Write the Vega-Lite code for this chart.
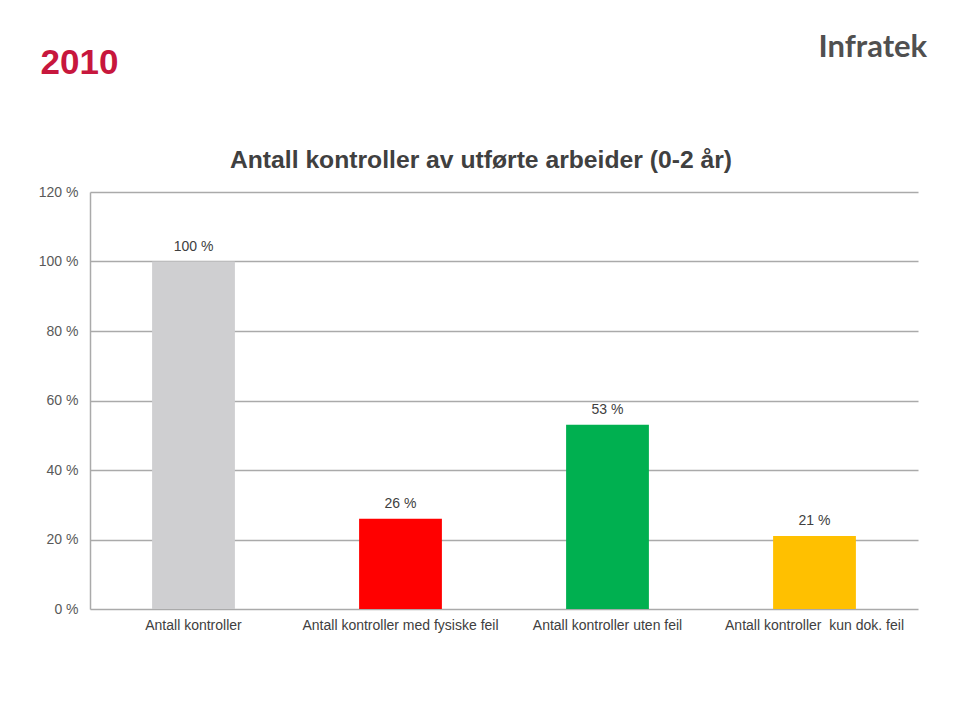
{
  "$schema": "https://vega.github.io/schema/vega-lite/v6.json",
  "autosize": "none",
  "width": 828,
  "height": 417,
  "padding": {"left": 90, "top": 192, "right": 42, "bottom": 103},
  "background": "white",
  "config": {"view": {"stroke": null}, "font": "Liberation Sans"},
  "title": {
    "text": "Antall kontroller av utførte arbeider (0-2 år)",
    "font": "Liberation Sans",
    "fontSize": 24.7,
    "fontWeight": "bold",
    "color": "#404040",
    "anchor": "middle",
    "dx": -23,
    "dy": 164,
    "offset": 22
  },
  "data": {
    "values": [
      {"kategori": "Antall kontroller", "andel": 100, "farge": "#CFCFD1"},
      {"kategori": "Antall kontroller med fysiske feil", "andel": 26, "farge": "#FF0000"},
      {"kategori": "Antall kontroller uten feil", "andel": 53, "farge": "#00B050"},
      {"kategori": "Antall kontroller\u00a0 kun dok. feil", "andel": 21, "farge": "#FFC000"}
    ]
  },
  "transform": [{"calculate": "datum.andel + ' %'", "as": "etikett"}],
  "encoding": {
    "x": {
      "field": "kategori",
      "type": "nominal",
      "sort": null,
      "scale": {"paddingInner": 0.6, "paddingOuter": 0.3},
      "axis": {
        "title": "Infratek",
        "titleX": 728,
        "titleY": -562,
        "titleAlign": "left",
        "titleBaseline": "middle",
        "titleFont": "Lato",
        "titleFontSize": 31,
        "titleFontWeight": "bold",
        "titleColor": "#505050",
        "labelAngle": 0,
        "labelFontSize": 14,
        "labelColor": "#404040",
        "labelPadding": 9,
        "labelLimit": 0,
        "labelFont": "Liberation Sans",
        "ticks": false,
        "domain": false
      }
    },
    "y": {
      "field": "andel",
      "type": "quantitative",
      "scale": {"domain": [0, 120]},
      "axis": {
        "values": [0, 20, 40, 60, 80, 100, 120],
        "labelExpr": "datum.value + ' %'",
        "labelFontSize": 14,
        "labelColor": "#595959",
        "labelFont": "Liberation Sans",
        "labelPadding": 12,
        "ticks": false,
        "domainColor": "#AAAAAA",
        "domainWidth": 1.5,
        "gridColor": "#AAAAAA",
        "gridWidth": 1.5,
        "title": "2010",
        "titleX": -50,
        "titleY": -130,
        "titleAngle": 0,
        "titleAlign": "left",
        "titleBaseline": "middle",
        "titleFont": "Liberation Sans",
        "titleFontSize": 35,
        "titleFontWeight": "bold",
        "titleColor": "#C7173D"
      }
    }
  },
  "layer": [
    {
      "mark": {"type": "bar"},
      "encoding": {"color": {"field": "farge", "type": "nominal", "scale": null}}
    },
    {
      "mark": {"type": "text", "baseline": "bottom", "dy": -8, "fontSize": 14, "color": "#404040", "font": "Liberation Sans"},
      "encoding": {"text": {"field": "etikett", "type": "nominal"}}
    }
  ]
}
